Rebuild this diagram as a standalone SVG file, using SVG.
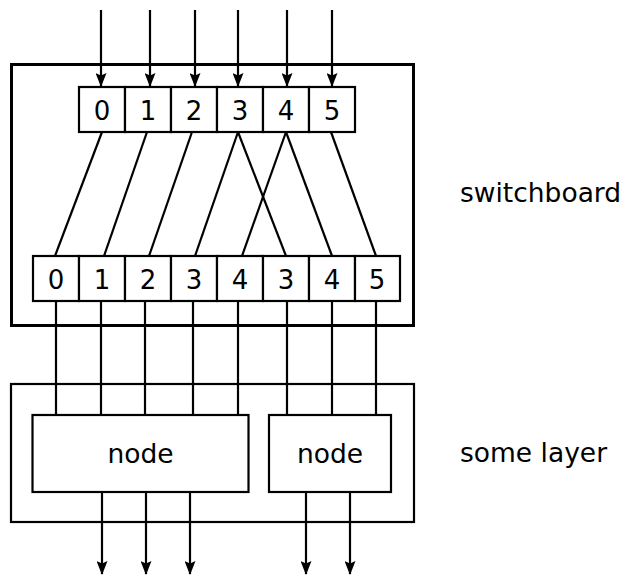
<svg xmlns="http://www.w3.org/2000/svg" width="634" height="587" viewBox="0 0 634 587">
<defs>
<style>
.box{fill:#fff;stroke:#000;stroke-width:2.2}
.frame{fill:none;stroke:#000;stroke-width:3}
.thin{fill:none;stroke:#000;stroke-width:2.2}
.ln{fill:none;stroke:#000;stroke-width:2.2}
.arr{fill:none;stroke:#000;stroke-width:2.2;marker-end:url(#ah)}
.dg{font-family:"DejaVu Sans",sans-serif;font-size:26px;text-anchor:middle;fill:#000}
.lb{font-family:"DejaVu Sans",sans-serif;font-size:26.5px;fill:#000}
.nd{font-family:"DejaVu Sans",sans-serif;font-size:26.5px;text-anchor:middle;fill:#000}
</style>
<marker id="ah" markerWidth="14" markerHeight="11" refX="13" refY="5.5" orient="auto" markerUnits="userSpaceOnUse" viewBox="0 0 14 11">
<path d="M0,0 L14,5.5 L0,11 L2.5,5.5 Z" fill="#000"/>
</marker>
</defs>
<g id="switchboard">
<rect class="frame" x="11.5" y="64.5" width="402" height="261"/>
<text class="lb" x="460" y="202">switchboard</text>
</g>
<g id="layer">
<rect class="thin" x="11" y="384" width="403" height="138"/>
<text class="lb" x="460" y="462">some layer</text>
</g>
<g id="connectors">
<g class="arr">
<path d="M101,10 V86"/>
<path d="M150,10 V86"/>
<path d="M195,10 V86"/>
<path d="M238,10 V86"/>
<path d="M287,10 V86"/>
<path d="M332,10 V86"/>
<path d="M102,492 V574"/>
<path d="M146,492 V574"/>
<path d="M190,492 V574"/>
<path d="M306,492 V574"/>
<path d="M350,492 V574"/>
</g>
<g class="ln">
<path d="M102,132 L55,256"/>
<path d="M147,132 L104,256"/>
<path d="M192,132 L149,256"/>
<path d="M238,132 L195,256"/>
<path d="M238,132 L286,256"/>
<path d="M286,132 L242,256"/>
<path d="M286,132 L332,256"/>
<path d="M331,132 L376,256"/>
<path d="M56,301 V415"/>
<path d="M101,301 V415"/>
<path d="M145,301 V415"/>
<path d="M193,301 V415"/>
<path d="M238,301 V415"/>
<path d="M287,301 V415"/>
<path d="M332,301 V415"/>
<path d="M376,301 V415"/>
</g>
</g>
<g id="inputs">
<rect class="box" x="79" y="87" width="46" height="45"/><text class="dg" x="102" y="119.5">0</text>
<rect class="box" x="125" y="87" width="46" height="45"/><text class="dg" x="148" y="119.5">1</text>
<rect class="box" x="171" y="87" width="46" height="45"/><text class="dg" x="194" y="119.5">2</text>
<rect class="box" x="217" y="87" width="46" height="45"/><text class="dg" x="240" y="119.5">3</text>
<rect class="box" x="263" y="87" width="46" height="45"/><text class="dg" x="286" y="119.5">4</text>
<rect class="box" x="309" y="87" width="46" height="45"/><text class="dg" x="332" y="119.5">5</text>
</g>
<g id="outputs">
<rect class="box" x="33" y="256" width="46" height="45"/><text class="dg" x="56" y="288.5">0</text>
<rect class="box" x="79" y="256" width="46" height="45"/><text class="dg" x="102" y="288.5">1</text>
<rect class="box" x="125" y="256" width="46" height="45"/><text class="dg" x="148" y="288.5">2</text>
<rect class="box" x="171" y="256" width="46" height="45"/><text class="dg" x="194" y="288.5">3</text>
<rect class="box" x="217" y="256" width="46" height="45"/><text class="dg" x="240" y="288.5">4</text>
<rect class="box" x="263" y="256" width="46" height="45"/><text class="dg" x="286" y="288.5">3</text>
<rect class="box" x="309" y="256" width="46" height="45"/><text class="dg" x="332" y="288.5">4</text>
<rect class="box" x="355" y="256" width="45" height="45"/><text class="dg" x="377" y="288.5">5</text>
</g>
<g id="node1">
<rect class="box" x="32.5" y="415" width="216" height="77"/>
<text class="nd" x="140.5" y="463">node</text>
</g>
<g id="node2">
<rect class="box" x="269" y="415" width="122" height="77"/>
<text class="nd" x="330" y="463">node</text>
</g>
</svg>
